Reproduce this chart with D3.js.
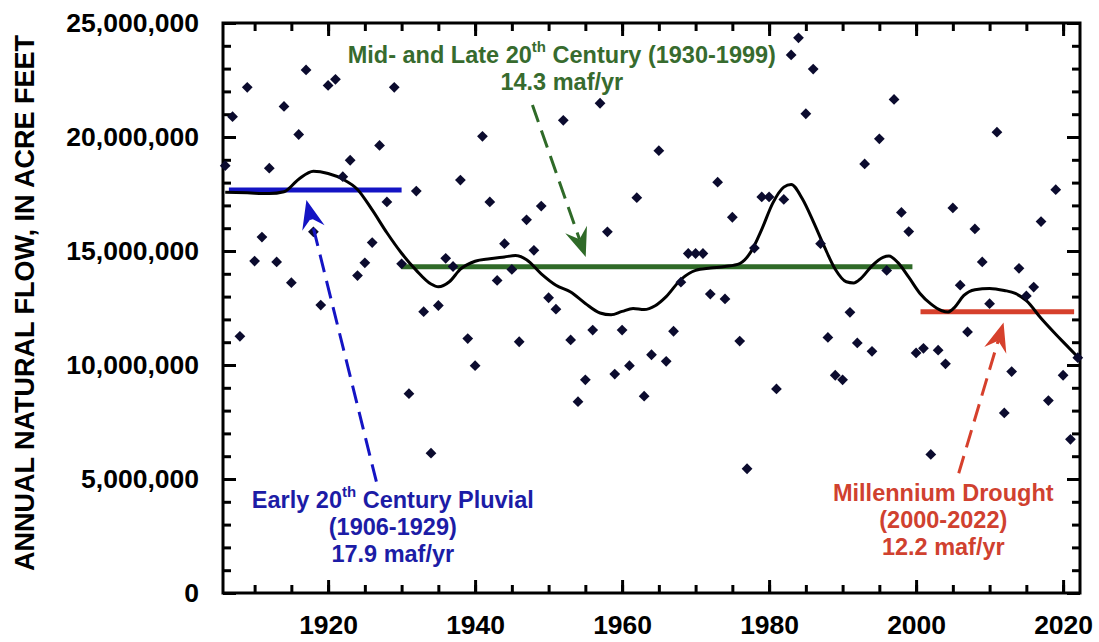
<!DOCTYPE html>
<html>
<head>
<meta charset="utf-8">
<script src="https://cdn.jsdelivr.net/npm/d3@7"></script>
<style>
  body { margin: 0; background: #fff; }
  svg text { font-family: "Liberation Sans", Arial, sans-serif; font-weight: bold; }
</style>
</head>
<body>
<div id="chart"></div>
<script>
// Lees Ferry annual natural flow, million acre-feet, 1906-2022
const firstYear = 1906;
const flowMaf = [
  18.74, 20.89, 11.26, 22.18, 14.56, 15.61, 18.63, 14.52, 21.34, 13.61,
  20.11, 22.94, 15.84, 12.63, 22.26, 22.53, 18.26, 18.98, 13.92, 14.48,
  15.37, 19.63, 17.15, 22.18, 14.44, 8.74, 17.63, 12.34, 6.13, 12.61,
  14.68, 14.32, 18.11, 11.16, 9.97, 20.03, 17.15, 13.71, 15.32, 14.19,
  11.02, 16.37, 15.03, 16.97, 12.95, 12.45, 20.73, 11.10, 8.39, 9.35,
  11.53, 21.48, 15.84, 9.60, 11.53, 9.97, 17.34, 8.63, 10.45, 19.40,
  10.16, 11.48, 13.63, 14.89, 14.89, 14.89, 13.11, 18.02, 12.90, 16.48,
  11.05, 5.45, 15.13, 17.37, 17.37, 8.95, 17.26, 23.60, 24.35, 21.02,
  22.98, 15.32, 11.21, 9.55, 9.35, 12.31, 10.97, 18.82, 10.60, 19.92,
  14.15, 21.65, 16.69, 15.85, 10.53, 10.73, 6.08, 10.65, 10.05, 16.89,
  13.50, 11.45, 15.97, 14.52, 12.69, 20.21, 7.90, 9.71, 14.24, 13.03,
  13.42, 16.29, 8.44, 17.69, 9.55, 6.74, 10.32
];

// smoothed curve
const smoothYears = [1906, 1909, 1912, 1914, 1916, 1918, 1920, 1922, 1924, 1926,
  1928, 1930, 1932, 1934, 1935, 1936.5, 1938, 1940, 1942, 1944, 1945.5, 1947,
  1949, 1951, 1953, 1955, 1957, 1958.5, 1960, 1961.5, 1963, 1964.5, 1966, 1968,
  1970, 1972, 1974, 1976, 1977.5, 1979, 1980.5, 1982, 1983, 1984.5, 1986,
  1987.5, 1989, 1990.5, 1991.5, 1992.5, 1994, 1995.5, 1996.3, 1997.5, 1999,
  2000.5, 2002, 2003.5, 2004.3, 2005.3, 2006.5, 2008, 2010, 2012, 2013.5,
  2015, 2017, 2019, 2020.5, 2022];
const smoothMaf = [17.58, 17.55, 17.52, 17.6, 18.15, 18.5, 18.4, 18.15, 17.7, 16.8,
  15.8, 14.9, 14.15, 13.55, 13.43, 13.65, 14.2, 14.55, 14.66, 14.74, 14.8, 14.62,
  14.0, 13.5, 13.2, 12.7, 12.28, 12.2, 12.35, 12.48, 12.43, 12.6, 13.0, 13.75,
  14.15, 14.25, 14.32, 14.45, 14.95, 15.95, 17.1, 17.8, 17.92, 17.3, 16.3,
  15.2, 14.2, 13.65, 13.6, 13.8, 14.35, 14.72, 14.78, 14.5, 13.85,
  13.15, 12.68, 12.38, 12.32, 12.55, 13.05, 13.3, 13.36, 13.27, 13.14,
  12.82, 12.05, 11.35, 10.85, 10.35];

// period means as drawn
const periodStart = [1906.5, 1930, 2000.6];
const periodEnd = [1930, 1999.5, 2021.5];
const periodMaf = [17.68, 14.31, 12.34];
const periodColor = ["#1414c4", "#2f6a28", "#d6402c"];
const textColor = ["#1c1ca6", "#376b2e", "#d0412f"];

// annotation text
const labelLines = [
  [["Early 20", "th", " Century Pluvial"], ["(1906-1929)"], ["17.9 maf/yr"]],
  [["Mid- and Late 20", "th", " Century (1930-1999)"], ["14.3 maf/yr"]],
  [["Millennium Drought"], ["(2000-2022)"], ["12.2 maf/yr"]]
];
const labelYear = [1928.8, 1951.8, 2003.7];
const labelMaf = [3.73, 23.25, 4.05];
// arrows: tail and tip (year, maf)
const arrowTail = [[1926.57, 4.88], [1947.8, 21.4], [2005.8, 5.25]];
const arrowTip = [[1917.05, 17.24], [1955.05, 14.74], [2011.9, 11.86]];

const yTicks = [0, 5e6, 10e6, 15e6, 20e6, 25e6];
const yMinor = d3.range(0, 25e6 + 1, 1e6);
const xTicks = [1920, 1940, 1960, 1980, 2000, 2020];
const xMinor = d3.range(1910, 2021, 5);

const W = 1099, H = 642;
const margin = { top: 23, right: 19, bottom: 49, left: 223 };
const width = W - margin.left - margin.right;
const height = H - margin.top - margin.bottom;

const svg = d3.select("#chart").append("svg")
  .attr("width", W).attr("height", H)
  .append("g")
  .attr("transform", `translate(${margin.left},${margin.top})`);

const x = d3.scaleLinear().domain([1905.7, 2022.3]).range([0, width]);
const y = d3.scaleLinear().domain([0, 25e6]).range([height, 0]);

const flows = flowMaf.map((v, i) => ({ year: firstYear + i, flow: v * 1e6 }));
const smooth = smoothYears.map((yr, i) => ({ year: yr, flow: smoothMaf[i] * 1e6 }));

function styleAxis(g) {
  g.select(".domain").remove();
  g.selectAll(".tick line").attr("stroke", "#000").attr("stroke-width", 3);
  g.attr("font-size", 26.5).attr("font-family", '"Liberation Sans", Arial, sans-serif')
    .attr("font-weight", "bold");
  g.selectAll(".tick text").attr("fill", "#000");
}

// axes, ticks inward on all four sides
svg.append("g").attr("transform", `translate(0,${height})`)
  .call(d3.axisBottom(x).tickValues(xMinor).tickFormat("").tickSize(-8)).call(styleAxis);
svg.append("g").attr("transform", `translate(0,${height})`)
  .call(d3.axisBottom(x).tickValues(xTicks).tickFormat(d3.format("d")).tickSize(-13).tickPadding(22))
  .call(styleAxis);
svg.append("g")
  .call(d3.axisTop(x).tickValues(xMinor).tickFormat("").tickSize(-8)).call(styleAxis);
svg.append("g")
  .call(d3.axisTop(x).tickValues(xTicks).tickFormat("").tickSize(-13)).call(styleAxis);

svg.append("g")
  .call(d3.axisLeft(y).tickValues(yMinor).tickFormat("").tickSize(-8)).call(styleAxis);
svg.append("g")
  .call(d3.axisLeft(y).tickValues(yTicks).tickFormat(d3.format(",")).tickSize(-13).tickPadding(24))
  .call(styleAxis);
svg.append("g").attr("transform", `translate(${width},0)`)
  .call(d3.axisRight(y).tickValues(yMinor).tickFormat("").tickSize(-8)).call(styleAxis);
svg.append("g").attr("transform", `translate(${width},0)`)
  .call(d3.axisRight(y).tickValues(yTicks).tickFormat("").tickSize(-13)).call(styleAxis);

svg.append("rect")
  .attr("x", 0).attr("y", 0).attr("width", width).attr("height", height)
  .attr("fill", "none").attr("stroke", "#000").attr("stroke-width", 3);

// y axis title
svg.append("text")
  .attr("transform", `translate(${34 - margin.left},${303 - margin.top}) rotate(-90)`)
  .attr("text-anchor", "middle")
  .attr("font-size", 27)
  .attr("fill", "#000")
  .text("ANNUAL NATURAL FLOW, IN ACRE FEET");

// period mean lines
svg.selectAll(".period").data(periodMaf).enter().append("line")
  .attr("class", "period")
  .attr("x1", (d, i) => x(periodStart[i]))
  .attr("x2", (d, i) => x(periodEnd[i]))
  .attr("y1", d => y(d * 1e6))
  .attr("y2", d => y(d * 1e6))
  .attr("stroke", (d, i) => periodColor[i])
  .attr("stroke-width", 5);

// smoothed curve
const line = d3.line().x(d => x(d.year)).y(d => y(d.flow)).curve(d3.curveMonotoneX);
svg.append("path").datum(smooth)
  .attr("fill", "none").attr("stroke", "#000").attr("stroke-width", 3).attr("d", line);

// annual points
svg.selectAll(".pt").data(flows).enter().append("path")
  .attr("class", "pt")
  .attr("d", d3.symbol().type(d3.symbolSquare).size(58))
  .attr("transform", d => `translate(${x(d.year)},${y(d.flow)}) rotate(45)`)
  .attr("fill", "#0b0b2e");

// dashed arrows
const headLen = 29, headWid = 23, notch = 0.65;
arrowTail.forEach((t, i) => {
  const x0 = x(t[0]), y0 = y(t[1] * 1e6);
  const x1 = x(arrowTip[i][0]), y1 = y(arrowTip[i][1] * 1e6);
  const ang = Math.atan2(y1 - y0, x1 - x0);
  const len = Math.hypot(x1 - x0, y1 - y0);
  const g = svg.append("g")
    .attr("transform", `translate(${x0},${y0}) rotate(${ang * 180 / Math.PI})`);
  g.append("line")
    .attr("x1", 0).attr("y1", 0)
    .attr("x2", len - headLen * notch).attr("y2", 0)
    .attr("stroke", periodColor[i]).attr("stroke-width", 3)
    .attr("stroke-dasharray", "18,9");
  g.append("path")
    .attr("d", `M${len},0 L${len - headLen},${-headWid / 2} L${len - headLen * notch},0 L${len - headLen},${headWid / 2} Z`)
    .attr("fill", periodColor[i]);
});

// annotation labels
labelLines.forEach((lines, i) => {
  const txt = svg.append("text")
    .attr("x", x(labelYear[i]))
    .attr("y", y(labelMaf[i] * 1e6))
    .attr("text-anchor", "middle")
    .attr("font-size", 23.5)
    .attr("fill", textColor[i]);
  lines.forEach((parts, j) => {
    if (parts.length === 1) {
      txt.append("tspan").attr("x", x(labelYear[i])).attr("dy", j === 0 ? 0 : 27).text(parts[0]);
    } else {
      txt.append("tspan").attr("x", x(labelYear[i])).attr("dy", j === 0 ? 0 : 27).text(parts[0]);
      txt.append("tspan").attr("font-size", 15).attr("dy", -11).text(parts[1]);
      txt.append("tspan").attr("dy", 11).text(parts[2]);
    }
  });
});
</script>
</body>
</html>
